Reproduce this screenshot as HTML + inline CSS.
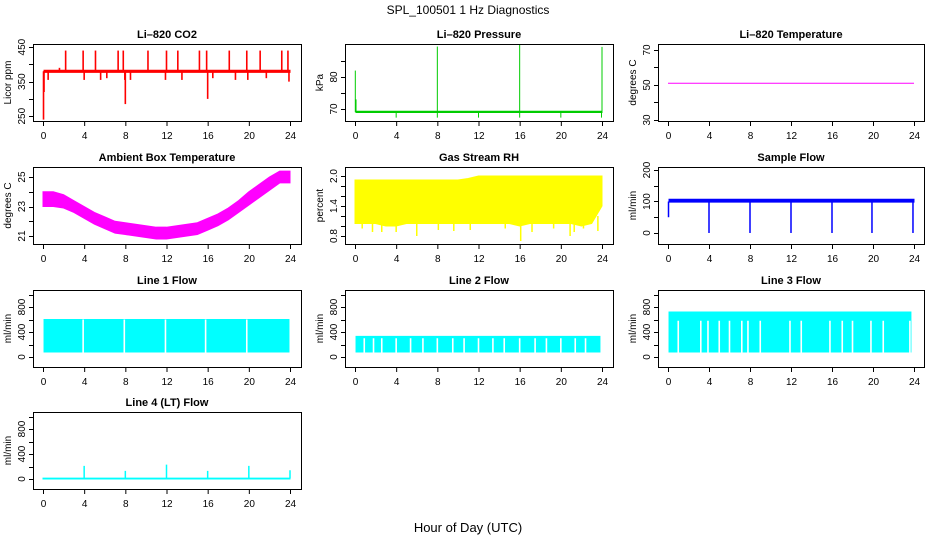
<!DOCTYPE html>
<html><head><meta charset="utf-8"><title>SPL_100501 1 Hz Diagnostics</title>
<style>
body{margin:0;background:#fff;}
svg{display:block;font-family:"Liberation Sans",sans-serif;}
</style></head>
<body>
<svg id="chart" width="936" height="540" viewBox="0 0 936 540">
<text x="468" y="14" text-anchor="middle" font-size="12">SPL_100501  1 Hz Diagnostics</text>
<text x="468" y="532" text-anchor="middle" font-size="13">Hour of Day (UTC)</text>
</svg>
<script>
// ---- data arrays (hours) ----
const hourTicks = [0,4,8,12,16,20,24];
// CO2
const co2Hours = [0.1,24];
const co2Lo = [377,377];
const co2Hi = [383,383];
const co2SpikeHours = [0.05,0.1,0.5,1.6,2.2,3.9,4.0,5.1,5.6,6.2,7.3,7.8,7.95,8.0,8.5,10.2,11.9,12.0,13.1,13.5,15.2,15.9,16.0,16.5,18.1,18.7,19.8,19.9,21.1,21.7,23.2,23.8,23.9];
const co2SpikeVals = [240,320,355,390,440,440,355,440,355,360,440,440,355,285,355,440,355,440,440,355,440,440,300,360,440,355,440,355,440,360,440,440,350];
// Pressure
const presHours = [0.1,24];
const presLo = [68.9,68.9];
const presHi = [69.3,69.3];
const presSpikeHours = [0.03,0.1,4.0,8.0,8.0,12.0,16.0,16.0,20.0,24.0,23.95];
const presSpikeVals = [82,73,67.3,89.5,67.3,67.3,90.2,67.3,67.3,89.4,67.3];
// Li-820 temperature
const ltHours = [0,24];
const ltVals = [51,51];
// Ambient box temperature (band per hour)
const ambHours = [0,1,2,3,4,5,6,7,8,9,10,11,12,13,14,15,16,17,18,19,20,21,22,23,24];
const ambLo = [23.0,23.0,22.9,22.6,22.2,21.8,21.5,21.2,21.1,21.0,20.9,20.8,20.8,20.9,21.0,21.1,21.4,21.7,22.1,22.6,23.1,23.6,24.1,24.6,24.6];
const ambHi = [24.0,24.0,23.8,23.4,23.0,22.6,22.3,22.0,21.9,21.8,21.7,21.6,21.6,21.7,21.8,21.9,22.2,22.5,22.9,23.4,24.0,24.5,25.0,25.4,25.4];
// Gas stream RH
const rhHours = [0,1,2,3,4,5,6,7,8,9,10,11,12,13,14,15,16,17,18,19,20,21,22,23,24];
const rhLo = [1.05,1.05,1.05,1.0,1.0,1.05,1.05,1.05,1.05,1.05,1.05,1.05,1.05,1.05,1.05,1.05,1.0,1.05,1.05,1.05,1.05,1.05,1.0,1.05,1.4];
const rhHi = [1.92,1.92,1.92,1.92,1.92,1.92,1.92,1.92,1.92,1.92,1.92,1.95,2.0,2.0,2.0,2.0,2.0,2.0,2.0,2.0,2.0,2.0,2.0,2.0,2.0];
const rhSpikeHours = [0.7,1.7,2.6,4.0,6.0,8.1,9.6,11.2,14.6,16.1,17.2,19.3,20.9,21.3,22.2,23.6];
const rhSpikeVals = [0.95,0.88,0.88,0.88,0.8,0.92,0.9,0.92,0.95,0.7,0.88,0.95,0.8,0.88,0.95,0.9];
// Sample flow
const sfHours = [0.1,24];
const sfLo = [98,98];
const sfHi = [107,107];
const sfSpikeHours = [0.05,4.0,8.0,12.0,16.0,19.9,23.9];
const sfSpikeVals = [50,0,0,0,0,0,0];
// Line flows
const l1Hours = [0.1,23.9];
const l1Lo = [80,80];
const l1Hi = [600,600];
const l1Gaps = [3.9,7.9,11.9,15.8,19.8];
const l2Hours = [0.1,23.8];
const l2Lo = [80,80];
const l2Hi = [330,330];
const l2Gaps = [0.9,1.8,2.6,4.0,5.4,6.6,8.0,9.5,10.6,12.0,13.4,14.5,16.0,17.5,18.6,20.0,21.4,22.4];
const l3Hours = [0.1,23.7];
const l3Lo = [80,80];
const l3Hi = [720,720];
const l3Gaps = [1.0,3.2,3.9,5.0,6.0,7.2,7.8,9.0,11.9,13.0,15.8,17.0,18.0,19.8,21.0,23.6];
const l4Hours = [0,24];
const l4Lo = [0,0];
const l4Hi = [15,15];
const l4SpikeHours = [4.0,8.0,12.0,16.0,20.0,24.0];
const l4SpikeVals = [210,130,230,130,210,140];

// ---- layout ----
const NS="http://www.w3.org/2000/svg";
const svg=document.getElementById('chart');
const cols=[[33,301,43,290],[345,613,355,602],[658,924,668,914]];
const rows=[[44,121],[167,244],[290,367],[412,489]];
function el(tag,attrs,parent){const e=document.createElementNS(NS,tag);for(const k in attrs)e.setAttribute(k,attrs[k]);(parent||svg).appendChild(e);return e;}

function panel(o){
  const c=cols[o.col],r=rows[o.row];
  const g=el('g',{});
  
  
  const sx=h=>c[2]+(c[3]-c[2])*h/24;
  const sy=v=>r[1]-(v-o.ymin)/(o.ymax-o.ymin)*(r[1]-r[0]);
  const t=el('text',{x:(c[0]+c[1])/2,y:r[0]-6,'text-anchor':'middle','font-size':'11','font-weight':'bold'},g);
  t.textContent=o.title;
  
  
  const marks=el('g',{},g);
  
  
  if(o.hours){
    let pts=o.hours.map((h,i)=>sx(h)+','+sy(o.hi[i]));
    pts=pts.concat(o.hours.map((h,i)=>sx(h)+','+sy(o.lo[i])).reverse());
    const p=el('polygon',{points:pts.join(' '),fill:o.color,stroke:o.color,'stroke-width':1},marks);
    
    
  }
  if(o.lineH){
    const pl=el('polyline',{points:o.lineH.map((h,i)=>sx(h)+','+sy(o.lineV[i])).join(' '),fill:'none',stroke:o.color,'stroke-width':1},marks);
    
    
  }
  if(o.gaps){
    o.gaps.forEach(h=>{
      const l=el('line',{x1:sx(h),x2:sx(h),y1:sy(o.lo[0])+1,y2:sy(o.gapTop),stroke:'#fff','stroke-width':1.6},marks);
      
      
    });
  }
  if(o.spH){
    o.spH.forEach((h,i)=>{
      const l=el('line',{x1:sx(h),x2:sx(h),y1:sy(o.base),y2:sy(o.spV[i]),stroke:o.color,'stroke-width':o.spW||1.5},marks);
      
      
    });
  }
  const b=el('rect',{x:c[0]+.5,y:r[0]+.5,width:c[1]-c[0],height:r[1]-r[0],fill:'none',stroke:'#000','stroke-width':1},g);
  
  
  const xa=el('g',{},g);
  
  
  el('line',{x1:sx(0),x2:sx(24),y1:r[1]+.5,y2:r[1]+.5,stroke:'#000'},xa);
  hourTicks.forEach(h=>{
    el('line',{x1:sx(h)+.5,x2:sx(h)+.5,y1:r[1],y2:r[1]+5,stroke:'#000'},xa);
    const tx=el('text',{x:sx(h)+.5,y:r[1]+18,'text-anchor':'middle','font-size':'10'},xa);
    tx.textContent=h;
    
    
  });
  const ya=el('g',{},g);
  
  
  el('line',{x1:c[0]+.5,x2:c[0]+.5,y1:sy(o.ticks[0]),y2:sy(o.ticks[o.ticks.length-1]),stroke:'#000'},ya);
  o.ticks.forEach(v=>{
    const y=Math.round(sy(v))+.5;
    el('line',{x1:c[0]-4,x2:c[0]+.5,y1:y,y2:y,stroke:'#000'},ya);
  });
  o.labels.forEach(v=>{
    const y=sy(v),x=c[0]-8;
    const tx=el('text',{x:x,y:y,'text-anchor':'middle','font-size':'10',transform:`rotate(-90 ${x} ${y})`},ya);
    tx.textContent=v.toFixed(o.dec||0);
    
    
  });
  const ym=(r[0]+r[1])/2,xl=c[0]-22;
  const yl=el('text',{x:xl,y:ym,'text-anchor':'middle','font-size':'10',transform:`rotate(-90 ${xl} ${ym})`},g);
  yl.textContent=o.ylab;
  
  
}
const flowTicks=[0,200,400,600,800,1000],flowLabels=[0,400,800];
panel({col:0,row:0,name:'panel-co2',title:'Li\u2013820 CO2',ylab:'Licor ppm',ymin:236,ymax:459,ticks:[250,300,350,400,450],labels:[250,350,450],color:'#ff0000',hours:co2Hours,lo:co2Lo,hi:co2Hi,spH:co2SpikeHours,spV:co2SpikeVals,base:380,spW:1.6});
panel({col:1,row:0,name:'panel-pressure',title:'Li\u2013820 Pressure',ylab:'kPa',ymin:66.25,ymax:90.3,ticks:[70,75,80,85],labels:[70,80],color:'#00cc00',hours:presHours,lo:presLo,hi:presHi,spH:presSpikeHours,spV:presSpikeVals,base:69,spW:1});
panel({col:2,row:0,name:'panel-li820-temperature',title:'Li\u2013820 Temperature',ylab:'degrees C',ymin:29.4,ymax:73.4,ticks:[30,40,50,60,70],labels:[30,50,70],color:'#ff00ff',lineH:ltHours,lineV:ltVals});
panel({col:0,row:1,name:'panel-ambient-temperature',title:'Ambient Box Temperature',ylab:'degrees C',ymin:20.46,ymax:25.68,ticks:[21,22,23,24,25],labels:[21,23,25],color:'#ff00ff',hours:ambHours,lo:ambLo,hi:ambHi});
panel({col:1,row:1,name:'panel-gas-rh',title:'Gas Stream RH',ylab:'percent',ymin:0.64,ymax:2.18,ticks:[0.8,1.0,1.2,1.4,1.6,1.8,2.0],labels:[0.8,1.4,2.0],dec:1,color:'#ffff00',hours:rhHours,lo:rhLo,hi:rhHi,spH:rhSpikeHours,spV:rhSpikeVals,base:1.2,spW:1.5});
panel({col:2,row:1,name:'panel-sample-flow',title:'Sample Flow',ylab:'ml/min',ymin:-35,ymax:209.5,ticks:[0,50,100,150,200],labels:[0,100,200],color:'#0000ff',hours:sfHours,lo:sfLo,hi:sfHi,spH:sfSpikeHours,spV:sfSpikeVals,base:100,spW:1.5});
panel({col:0,row:2,name:'panel-line1-flow',title:'Line 1 Flow',ylab:'ml/min',ymin:-160,ymax:1072,ticks:flowTicks,labels:flowLabels,color:'#00ffff',hours:l1Hours,lo:l1Lo,hi:l1Hi,gaps:l1Gaps,gapTop:600});
panel({col:1,row:2,name:'panel-line2-flow',title:'Line 2 Flow',ylab:'ml/min',ymin:-160,ymax:1072,ticks:flowTicks,labels:flowLabels,color:'#00ffff',hours:l2Hours,lo:l2Lo,hi:l2Hi,gaps:l2Gaps,gapTop:300});
panel({col:2,row:2,name:'panel-line3-flow',title:'Line 3 Flow',ylab:'ml/min',ymin:-160,ymax:1072,ticks:flowTicks,labels:flowLabels,color:'#00ffff',hours:l3Hours,lo:l3Lo,hi:l3Hi,gaps:l3Gaps,gapTop:580});
panel({col:0,row:3,name:'panel-line4-flow',title:'Line 4 (LT) Flow',ylab:'ml/min',ymin:-160,ymax:1072,ticks:flowTicks,labels:flowLabels,color:'#00ffff',hours:l4Hours,lo:l4Lo,hi:l4Hi,spH:l4SpikeHours,spV:l4SpikeVals,base:10,spW:1.5});
</script>
</body></html>
